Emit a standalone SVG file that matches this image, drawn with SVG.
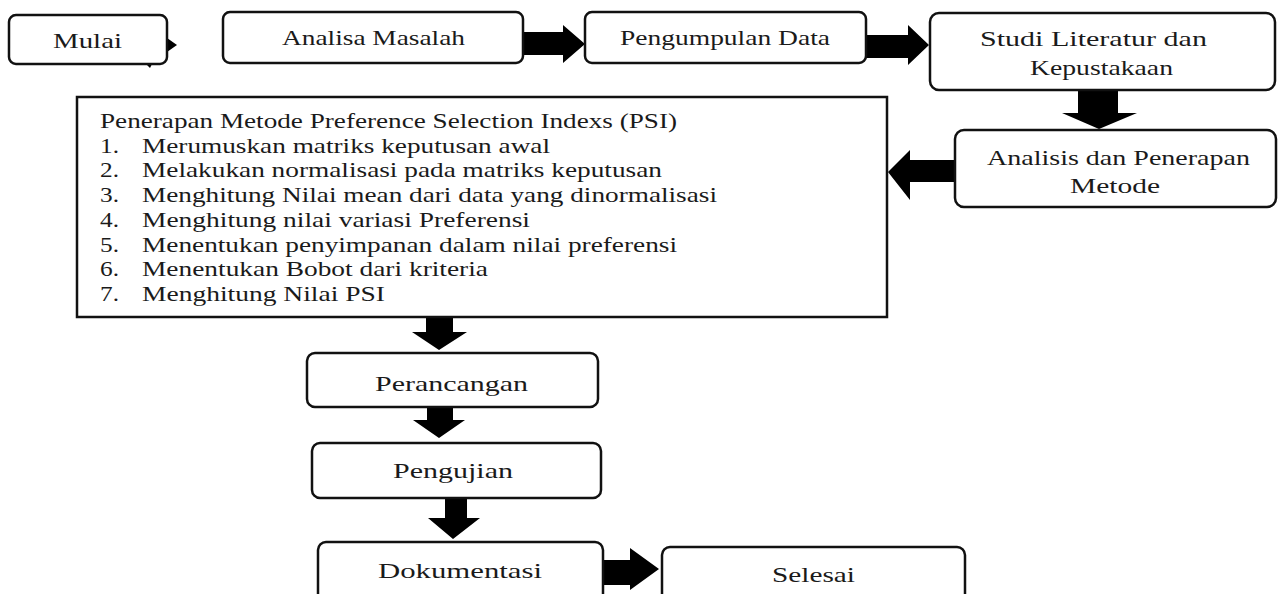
<svg xmlns="http://www.w3.org/2000/svg" width="1279" height="594" viewBox="0 0 1279 594">
<style>
.box{fill:#fff;stroke:#111;stroke-width:2.5}
.t{font-family:"Liberation Serif","Times New Roman",serif;font-size:21px;fill:#1a1a1a}
.arr{fill:#000}
</style>
<rect width="1279" height="594" fill="#fff"/>
<g id="connectors">
  <path class="arr" d="M167,38 L177,45 L167,52 Z"/>
  <path class="arr" d="M146,64 L152,64 L150,68 Z"/>
  <path class="arr" d="M523,32 L563,32 L563,25 L585,44 L563,63 L563,55 L523,55 Z"/>
  <path class="arr" d="M866,35 L908,35 L908,25 L929,45 L908,65 L908,58 L866,58 Z"/>
  <path class="arr" d="M1078,90 L1118,90 L1118,113 L1137,113 L1099,129 L1062,113 L1078,113 Z"/>
  <path class="arr" d="M955,160 L910,160 L910,150 L888,172 L910,200 L910,182 L955,182 Z"/>
  <path class="arr" d="M426,317 L453,317 L453,332 L467,332 L439,350 L412,332 L426,332 Z"/>
  <path class="arr" d="M427,407 L453,407 L453,420 L465,420 L439,438 L413,420 L427,420 Z"/>
  <path class="arr" d="M445,498 L467,498 L467,518 L480,518 L453,539 L428,518 L445,518 Z"/>
  <path class="arr" d="M603,560 L630,560 L630,548 L659,569 L630,590 L630,585 L603,585 Z"/>
</g>
<g id="mulai">
  <rect class="box" x="9" y="15" width="158" height="49" rx="7"/>
  <text class="t" x="53" y="48" textLength="69" lengthAdjust="spacingAndGlyphs">Mulai</text>
</g>
<g id="analisa-masalah">
  <rect class="box" x="223" y="12" width="300" height="51" rx="7"/>
  <text class="t" x="282" y="45" textLength="183" lengthAdjust="spacingAndGlyphs">Analisa Masalah</text>
</g>
<g id="pengumpulan-data">
  <rect class="box" x="585" y="12" width="281" height="51" rx="7"/>
  <text class="t" x="620" y="45" textLength="210" lengthAdjust="spacingAndGlyphs">Pengumpulan Data</text>
</g>
<g id="studi-literatur">
  <rect class="box" x="930" y="13" width="345" height="77" rx="9"/>
  <text class="t" x="980" y="46" textLength="227" lengthAdjust="spacingAndGlyphs">Studi Literatur dan</text>
  <text class="t" x="1030" y="75" textLength="143" lengthAdjust="spacingAndGlyphs">Kepustakaan</text>
</g>
<g id="analisis-penerapan">
  <rect class="box" x="955" y="130" width="321" height="77" rx="9"/>
  <text class="t" x="987" y="165" textLength="263" lengthAdjust="spacingAndGlyphs">Analisis dan Penerapan</text>
  <text class="t" x="1070" y="193" textLength="90" lengthAdjust="spacingAndGlyphs">Metode</text>
</g>
<g id="psi">
  <rect class="box" x="77" y="97" width="810" height="220" rx="0"/>
  <text class="t" x="100" y="128" textLength="577" lengthAdjust="spacingAndGlyphs">Penerapan Metode Preference Selection Indexs (PSI)</text>
  <text class="t" x="100" y="152.7" textLength="19" lengthAdjust="spacingAndGlyphs">1.</text>
  <text class="t" x="142" y="152.7" textLength="408" lengthAdjust="spacingAndGlyphs">Merumuskan matriks keputusan awal</text>
  <text class="t" x="100" y="177.4" textLength="19" lengthAdjust="spacingAndGlyphs">2.</text>
  <text class="t" x="142" y="177.4" textLength="520" lengthAdjust="spacingAndGlyphs">Melakukan normalisasi pada matriks keputusan</text>
  <text class="t" x="100" y="202.1" textLength="19" lengthAdjust="spacingAndGlyphs">3.</text>
  <text class="t" x="142" y="202.1" textLength="575" lengthAdjust="spacingAndGlyphs">Menghitung Nilai mean dari data yang dinormalisasi</text>
  <text class="t" x="100" y="226.8" textLength="19" lengthAdjust="spacingAndGlyphs">4.</text>
  <text class="t" x="142" y="226.8" textLength="388" lengthAdjust="spacingAndGlyphs">Menghitung nilai variasi Preferensi</text>
  <text class="t" x="100" y="251.5" textLength="19" lengthAdjust="spacingAndGlyphs">5.</text>
  <text class="t" x="142" y="251.5" textLength="535" lengthAdjust="spacingAndGlyphs">Menentukan penyimpanan dalam nilai preferensi</text>
  <text class="t" x="100" y="276.2" textLength="19" lengthAdjust="spacingAndGlyphs">6.</text>
  <text class="t" x="142" y="276.2" textLength="346" lengthAdjust="spacingAndGlyphs">Menentukan Bobot dari kriteria</text>
  <text class="t" x="100" y="300.9" textLength="19" lengthAdjust="spacingAndGlyphs">7.</text>
  <text class="t" x="142" y="300.9" textLength="243" lengthAdjust="spacingAndGlyphs">Menghitung Nilai PSI</text>
</g>
<g id="perancangan">
  <rect class="box" x="307" y="353" width="291" height="54" rx="8"/>
  <text class="t" x="375" y="391" textLength="153" lengthAdjust="spacingAndGlyphs">Perancangan</text>
</g>
<g id="pengujian">
  <rect class="box" x="312" y="443" width="289" height="55" rx="8"/>
  <text class="t" x="393" y="478" textLength="120" lengthAdjust="spacingAndGlyphs">Pengujian</text>
</g>
<g id="dokumentasi">
  <rect class="box" x="318" y="542" width="285" height="70" rx="8"/>
  <text class="t" x="378" y="578" textLength="164" lengthAdjust="spacingAndGlyphs">Dokumentasi</text>
</g>
<g id="selesai">
  <rect class="box" x="662" y="547" width="303" height="65" rx="8"/>
  <text class="t" x="772" y="582" textLength="83" lengthAdjust="spacingAndGlyphs">Selesai</text>
</g>
</svg>
